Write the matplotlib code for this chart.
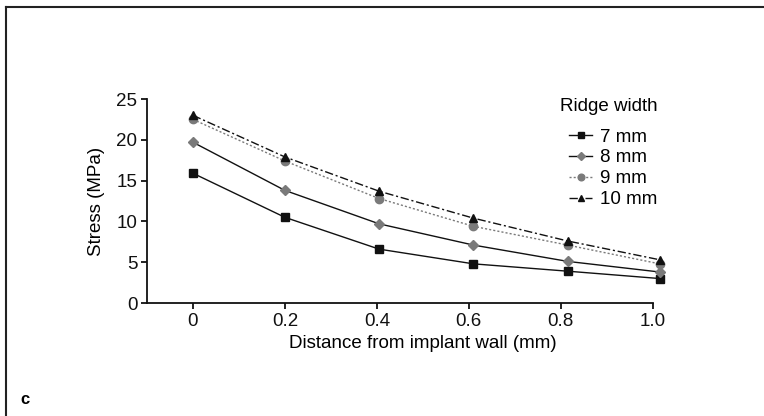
import matplotlib
matplotlib.use('Agg')
import matplotlib.pyplot as plt
from matplotlib.lines import Line2D

plt.rcParams['font.family'] = ['Liberation Sans', 'DejaVu Sans']

# Data
distance = [0, 0.2, 0.405, 0.61, 0.815, 1.015]
stress_7 = [15.9, 10.5, 6.6, 4.8, 3.9, 3.0]
stress_8 = [19.7, 13.8, 9.7, 7.1, 5.1, 3.8]
stress_9 = [22.5, 17.4, 12.8, 9.4, 7.1, 4.8]
stress_10 = [23.0, 17.9, 13.7, 10.4, 7.6, 5.3]
labels = ["7 mm", "8 mm", "9 mm", "10 mm"]

fs = 13.5

fig = plt.figure(figsize=(7.64, 4.16), dpi=100)

# panel frame (top and left edges)
fig.add_artist(Line2D([0.008, 0.008], [0.0, 0.983], transform=fig.transFigure, color='#222222', lw=1.5))
fig.add_artist(Line2D([0.008, 1.0], [0.983, 0.983], transform=fig.transFigure, color='#222222', lw=1.5))

ax = fig.add_axes([0.1924, 0.2716, 0.662, 0.4904])

gray = '#7a7a7a'
ax.plot(distance, stress_7, color='#111111', lw=1.0, marker='s', ms=6,
        mfc='#111111', mec='#111111', label=labels[0], clip_on=False)
ax.plot(distance, stress_8, color='#111111', lw=1.0, marker='D', ms=5,
        mfc=gray, mec=gray, label=labels[1], clip_on=False)
ax.plot(distance, stress_9, color=gray, lw=1.0, ls=(0, (1.5, 1.5)), marker='o', ms=6,
        mfc=gray, mec=gray, label=labels[2], clip_on=False)
ax.plot(distance, stress_10, color='#111111', lw=1.0, ls=(0, (6, 2, 1.5, 2)), marker='^', ms=6,
        mfc='#111111', mec='#111111', label=labels[3], clip_on=False)

ax.set_xlim(-0.1, 1.0)
ax.set_ylim(0, 25)
ax.set_xticks([0, 0.2, 0.4, 0.6, 0.8, 1.0])
ax.set_xticklabels(["0", "0.2", "0.4", "0.6", "0.8", "1.0"])
ax.set_yticks([0, 5, 10, 15, 20, 25])

for s in ['top', 'right']:
    ax.spines[s].set_visible(False)
for s in ['left', 'bottom']:
    ax.spines[s].set_linewidth(1.3)
    ax.spines[s].set_color('#111111')
ax.tick_params(direction='out', length=4, width=1.3, labelsize=fs, colors='#111111', pad=3)

ax.set_xlabel("Distance from implant wall (mm)", fontsize=fs, labelpad=0)
ax.xaxis.set_label_coords(0.5455, -0.155)
ax.set_ylabel("Stress (MPa)", fontsize=fs, labelpad=8)

leg = ax.legend(title="Ridge width", frameon=False, fontsize=fs, title_fontsize=fs,
                loc='upper left', bbox_to_anchor=(0.783, 1.09), handlelength=1.25,
                handletextpad=0.4, labelspacing=0.2, markerscale=0.8, alignment='left')
# entries indented under the title, with a wider gap below the title
leg._legend_handle_box.pad = 6.5
leg._legend_box.sep = 3.5

fig.text(0.027, 0.03, "c", fontsize=12, fontweight='bold')

fig.savefig("out.png", dpi=100)
